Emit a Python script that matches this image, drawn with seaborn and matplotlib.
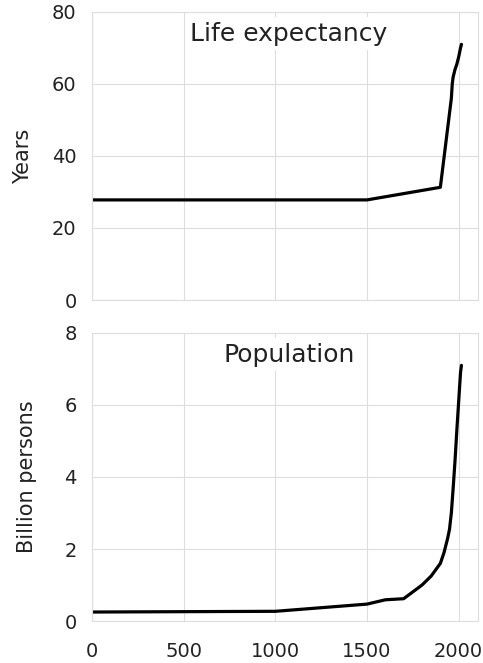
import pandas as pd
import matplotlib
matplotlib.use('Agg')
import matplotlib.pyplot as plt
import seaborn as sns

# Espérance de vie (années)
life_year = [0, 1500, 1900, 1960, 1965, 1970, 1980, 1990, 2000, 2010, 2015]
life_value = [27.8, 27.8, 31.3, 56.0, 60.0, 62.0, 64.0, 65.5, 67.5, 70.0, 71.0]

# Population mondiale (milliards)
pop_year = [0, 1000, 1500, 1600, 1700, 1800, 1850, 1900, 1920, 1940, 1950,
            1960, 1970, 1980, 1990, 2000, 2010, 2015]
pop_value = [0.25, 0.27, 0.47, 0.59, 0.62, 1.0, 1.25, 1.6, 1.9, 2.3, 2.55,
             3.0, 3.7, 4.45, 5.3, 6.1, 6.9, 7.1]

x_ticks = [0, 500, 1000, 1500, 2000]

sns.set_style('whitegrid', {'grid.color': '#dddddd', 'axes.edgecolor': '#dddddd'})
plt.rcParams['font.family'] = ['DejaVu Sans']
plt.rcParams['text.color'] = '#222222'
plt.rcParams['axes.labelcolor'] = '#222222'
plt.rcParams['xtick.color'] = '#222222'
plt.rcParams['ytick.color'] = '#222222'

fig = plt.figure(figsize=(4.83, 6.63), dpi=100)
ax1 = fig.add_axes([0.1905, 0.5475, 0.799, 0.4345])
ax2 = fig.add_axes([0.1905, 0.0633, 0.799, 0.4345], sharex=ax1)

df_life = pd.DataFrame({'year': life_year, 'value': life_value})
df_pop = pd.DataFrame({'year': pop_year, 'value': pop_value})

sns.lineplot(data=df_life, x='year', y='value', ax=ax1, color='black', linewidth=2.3)
sns.lineplot(data=df_pop, x='year', y='value', ax=ax2, color='black', linewidth=2.3)

ax1.set_ylim(0, 80)
ax1.set_yticks([0, 20, 40, 60, 80])
ax2.set_ylim(0, 8)
ax2.set_yticks([0, 2, 4, 6, 8])
ax1.set_xlim(0, 2105)
ax1.set_xticks(x_ticks)

ax1.set_ylabel('Years', fontsize=15, labelpad=14)
ax2.set_ylabel('Billion persons', fontsize=15, labelpad=20)
ax1.set_xlabel('')
ax2.set_xlabel('')
ax1.tick_params(axis='x', labelbottom=False, length=0)
ax1.tick_params(axis='y', length=0, pad=11, labelsize=14)
ax2.tick_params(axis='y', length=0, pad=11, labelsize=14)
ax2.tick_params(axis='x', length=0, pad=15, labelsize=14)

for ax, title in [(ax1, 'Life expectancy'), (ax2, 'Population')]:
    ax.text(0.51, 0.925, title, transform=ax.transAxes, ha='center', va='center',
            fontsize=18, bbox=dict(facecolor='white', edgecolor='none', pad=3))

fig.savefig('out.png', dpi=100)
